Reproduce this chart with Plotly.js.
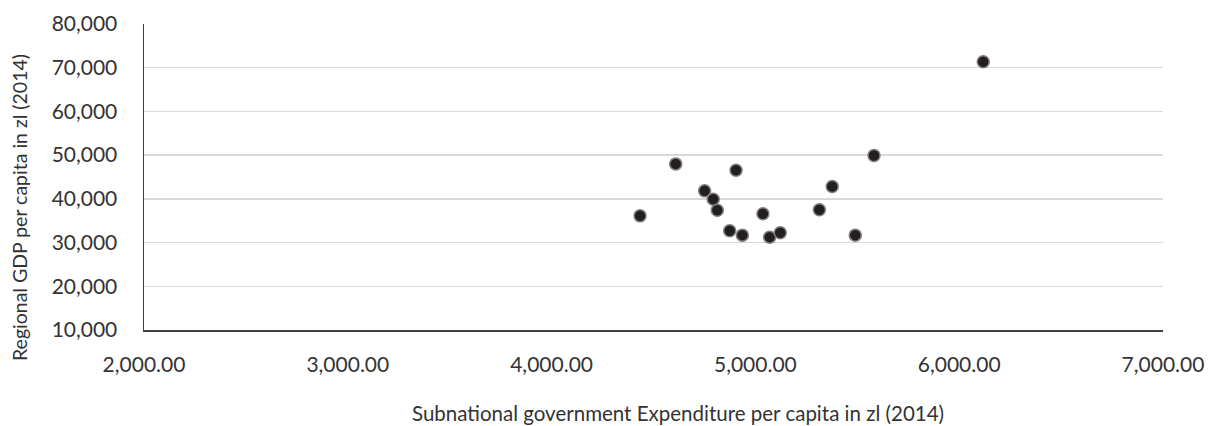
<!DOCTYPE html>
<html>
<head>
<meta charset="utf-8">
<script src="https://cdn.plot.ly/plotly-3.0.1.min.js"></script>
<style>html,body{margin:0;padding:0;background:#fff;}#chart{width:1210px;height:426px;}</style>
</head>
<body>
<div id="chart"></div>
<script>
// Subnational government expenditure per capita (zl, 2014) by region
const expenditure = [6118, 4609, 4905, 5582, 5377, 4751, 4793, 4813, 4434, 5037, 5314, 4874, 4936, 5070, 5122, 5490];
// Regional GDP per capita (zl, 2014)
const gdp = [71380, 48000, 46560, 49900, 42810, 41830, 39930, 37410, 36110, 36570, 37490, 32690, 31700, 31240, 32230, 31700];

const xTitle = 'Subnational government Expenditure per capita in zl (2014)';
const yTitle = 'Regional GDP per capita in zl (2014)';

const font = 'Lato, "Open Sans", sans-serif';
const textColor = '#333333';

const trace = {
  type: 'scatter',
  mode: 'markers',
  x: expenditure,
  y: gdp,
  marker: {size: 12, color: '#231f20', line: {color: '#7f7f7f', width: 1.5}},
  hoverinfo: 'x+y'
};

const layout = {
  width: 1210,
  height: 426,
  margin: {l: 144, r: 47, t: 24, b: 96},
  paper_bgcolor: '#ffffff',
  plot_bgcolor: '#ffffff',
  showlegend: false,
  font: {family: font, color: textColor, size: 21},
  xaxis: {
    range: [2000, 7000],
    dtick: 1000,
    tick0: 2000,
    tickformat: ',.2f',
    showgrid: false,
    zeroline: false,
    showline: true,
    linecolor: '#404040',
    linewidth: 1.5,
    ticks: '',
    ticklabelstandoff: 15,
    tickfont: {family: font, size: 21, color: textColor}
  },
  yaxis: {
    range: [10000, 80000],
    dtick: 10000,
    tick0: 10000,
    tickformat: ',d',
    showgrid: true,
    gridcolor: '#d9d9d9',
    gridwidth: 1.5,
    zeroline: false,
    showline: true,
    linecolor: '#404040',
    linewidth: 1.5,
    ticks: '',
    ticklabelstandoff: 21,
    tickfont: {family: font, size: 21, color: textColor}
  },
  annotations: [
    {text: xTitle, xref: 'paper', yref: 'paper', x: 0.524, y: -0.271, xanchor: 'center', yanchor: 'middle', showarrow: false, font: {family: font, size: 20.5, color: textColor}},
    {text: yTitle, xref: 'paper', yref: 'paper', x: -0.1217, y: 0.402, xanchor: 'center', yanchor: 'middle', textangle: -90, showarrow: false, font: {family: font, size: 19.5, color: textColor}}
  ]
};

Plotly.newPlot('chart', [trace], layout, {displayModeBar: false, staticPlot: true});
</script>
</body>
</html>
